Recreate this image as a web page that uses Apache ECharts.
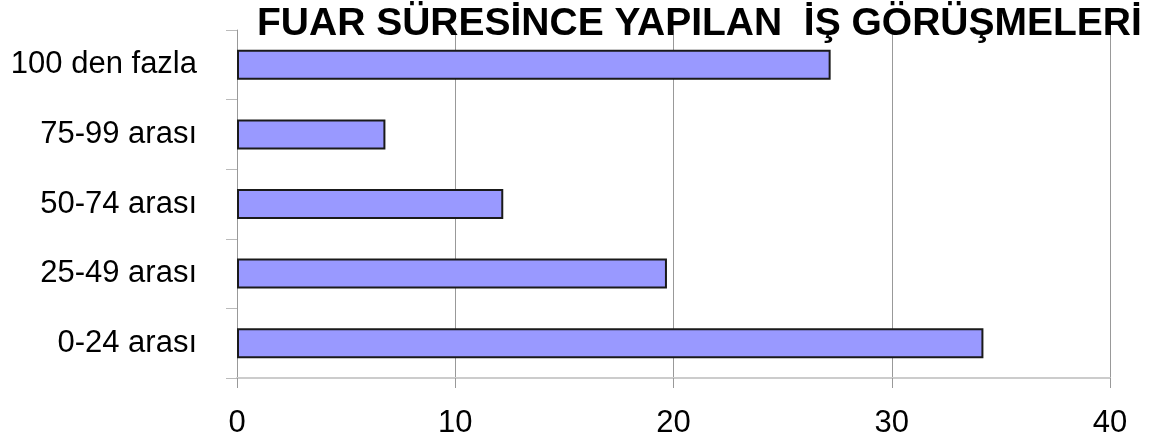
<!DOCTYPE html>
<html>
<head>
<meta charset="utf-8">
<script src="https://cdn.jsdelivr.net/npm/echarts@6/dist/echarts.min.js"></script>
<style>
html, body { margin: 0; padding: 0; background: #fff; }
#chart { width: 1152px; height: 446px; }
</style>
</head>
<body>
<div id="chart"></div>
<script>
var categories = ['0-24 arası', '25-49 arası', '50-74 arası', '75-99 arası', '100 den fazla'];
var values = [34.2, 19.7, 12.2, 6.8, 27.2];
var xTicks = [0, 10, 20, 30, 40];

var chart = echarts.init(document.getElementById('chart'));
var option = {
    backgroundColor: '#fff',
    animation: false,
    textStyle: { fontFamily: '"Liberation Sans", Arial, sans-serif' },
    title: {
        text: 'FUAR SÜRESİNCE YAPILAN  İŞ GÖRÜŞMELERİ',
        left: 257,
        top: 5,
        padding: 0,
        textStyle: {
            fontFamily: '"Liberation Sans", Arial, sans-serif',
            fontSize: 39,
            fontWeight: 'bold',
            color: '#000'
        }
    },
    grid: { left: 237, right: 42, top: 30, bottom: 68 },
    xAxis: {
        type: 'value',
        min: xTicks[0],
        max: xTicks[xTicks.length - 1],
        interval: 10,
        axisLine: { show: true, lineStyle: { color: '#cccccc', width: 2 } },
        axisTick: { show: true, length: 10, lineStyle: { color: '#999' } },
        axisLabel: { color: '#000', fontSize: 31, margin: 30 },
        splitLine: { show: true, lineStyle: { color: '#999', width: 1 } }
    },
    yAxis: {
        type: 'category',
        data: categories,
        axisLine: { show: true, lineStyle: { color: '#999', width: 1 } },
        axisTick: { show: true, length: 11, lineStyle: { color: '#bbb' } },
        axisLabel: { color: '#000', fontSize: 31, margin: 40 },
        splitLine: { show: false }
    },
    series: [{
        type: 'bar',
        data: values,
        barWidth: 30,
        itemStyle: {
            color: '#9999ff',
            borderColor: '#1a1a1a',
            borderWidth: 2
        }
    }],
    graphic: [{
        type: 'rect',
        shape: { x: 0, y: 432, width: 1152, height: 14 },
        style: { fill: '#fff' },
        z: 100
    }]
};
chart.setOption(option);
</script>
</body>
</html>
